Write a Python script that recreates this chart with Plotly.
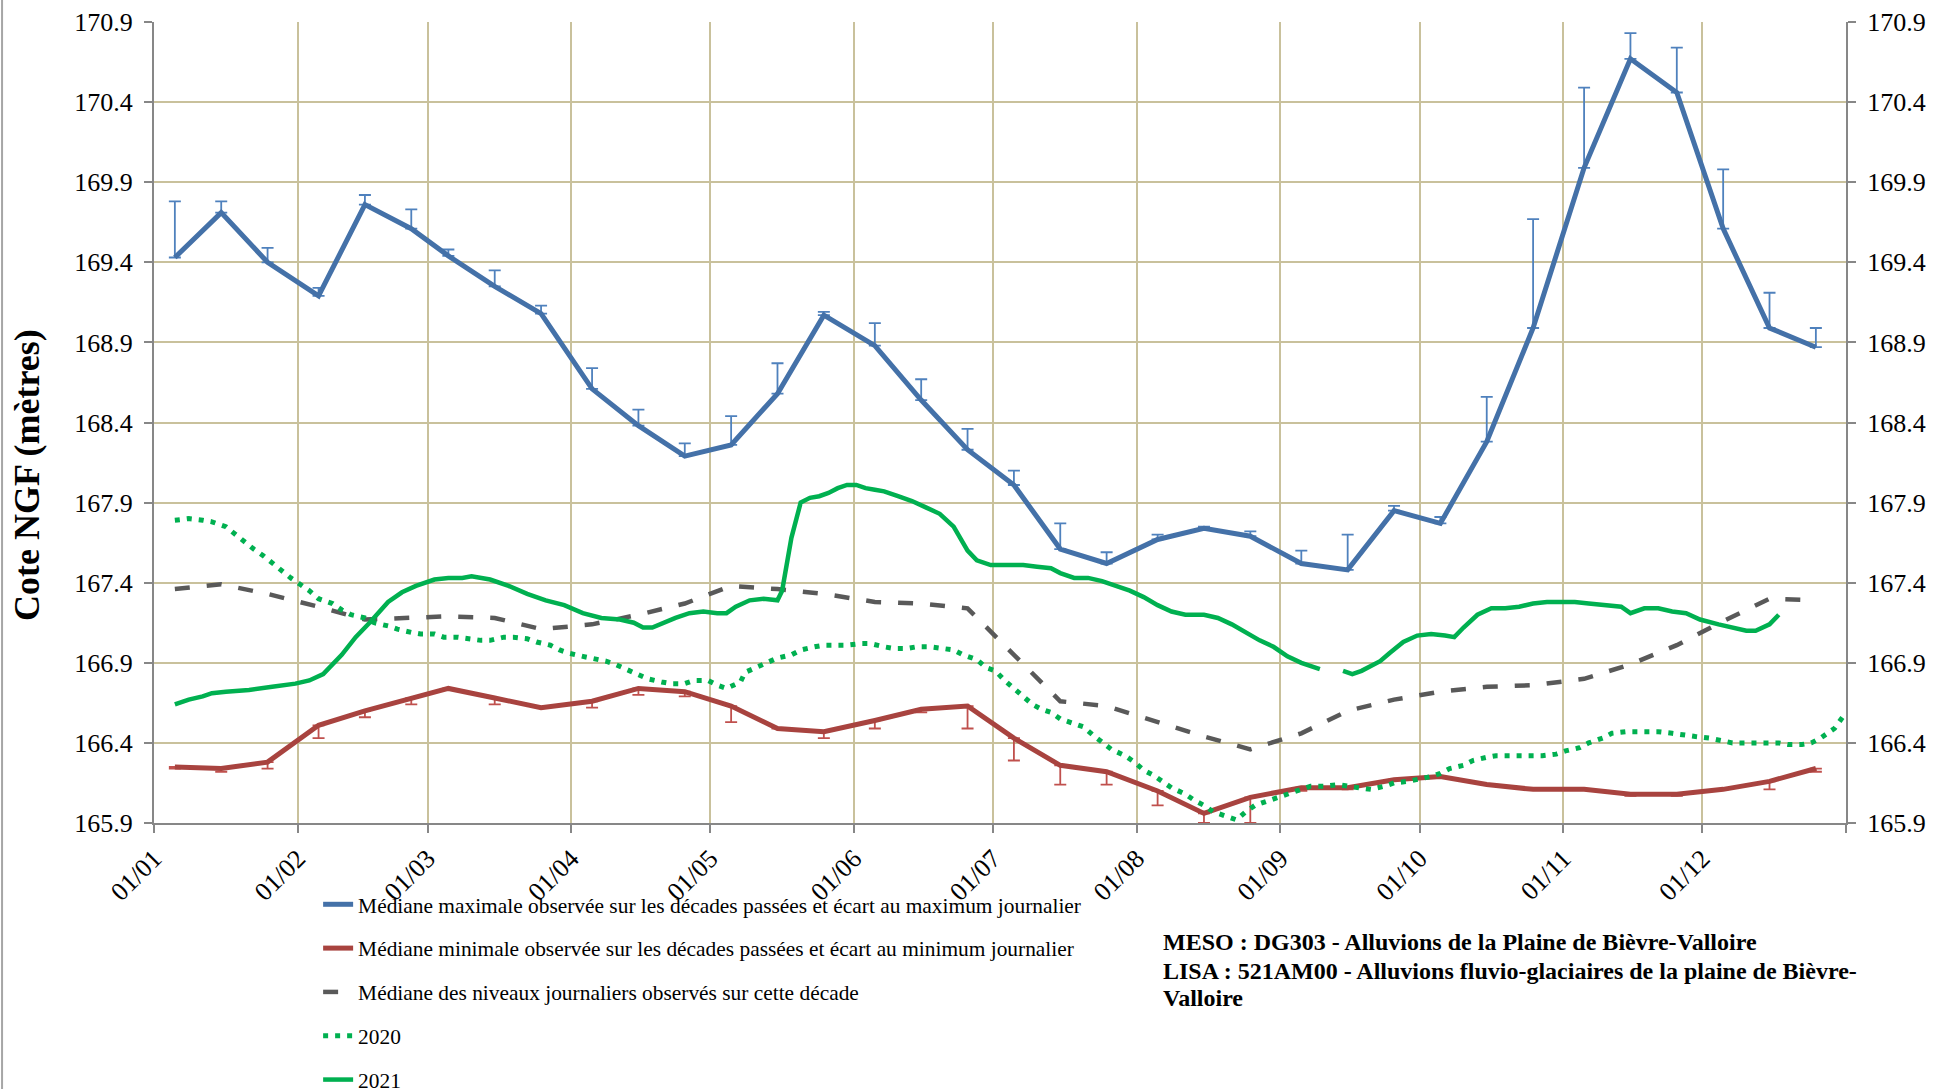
import pandas as pd
import plotly.graph_objects as go

# ---------------- data ----------------
decade_dates = [
    "2021-01-05", "2021-01-15", "2021-01-25", "2021-02-05", "2021-02-15", "2021-02-25",
    "2021-03-05", "2021-03-15", "2021-03-25", "2021-04-05", "2021-04-15", "2021-04-25",
    "2021-05-05", "2021-05-15", "2021-05-25", "2021-06-05", "2021-06-15", "2021-06-25",
    "2021-07-05", "2021-07-15", "2021-07-25", "2021-08-05", "2021-08-15", "2021-08-25",
    "2021-09-05", "2021-09-15", "2021-09-25", "2021-10-05", "2021-10-15", "2021-10-25",
    "2021-11-05", "2021-11-15", "2021-11-25", "2021-12-05", "2021-12-15", "2021-12-25",
]

med_max = [169.43, 169.71, 169.40, 169.19, 169.76, 169.61, 169.44, 169.25, 169.08,
           168.61, 168.38, 168.19, 168.26, 168.58, 169.07, 168.88, 168.54, 168.23,
           168.01, 167.61, 167.52, 167.67, 167.74, 167.69, 167.52, 167.48, 167.85,
           167.77, 168.28, 168.99, 169.99, 170.67, 170.46, 169.61, 168.99, 168.87]
ecart_max = [0.35, 0.07, 0.09, 0.05, 0.06, 0.12, 0.04, 0.10, 0.05,
             0.13, 0.10, 0.08, 0.18, 0.19, 0.02, 0.14, 0.13, 0.13,
             0.09, 0.16, 0.07, 0.03, 0.01, 0.03, 0.08, 0.22, 0.03,
             0.04, 0.28, 0.68, 0.50, 0.16, 0.28, 0.37, 0.22, 0.12]

med_min = [166.25, 166.24, 166.28, 166.51, 166.60, 166.68, 166.74, 166.68, 166.62,
           166.66, 166.74, 166.72, 166.63, 166.49, 166.47, 166.54, 166.61, 166.63,
           166.43, 166.26, 166.22, 166.10, 165.96, 166.06, 166.12, 166.12, 166.17,
           166.19, 166.14, 166.11, 166.11, 166.08, 166.08, 166.11, 166.16, 166.24]
ecart_min = [0.01, 0.02, 0.04, 0.08, 0.04, 0.04, 0.00, 0.04, 0.00,
             0.04, 0.04, 0.03, 0.10, 0.00, 0.04, 0.05, 0.02, 0.14,
             0.14, 0.12, 0.08, 0.09, 0.06, 0.16, 0.02, 0.01, 0.00,
             0.00, 0.00, 0.00, 0.00, 0.01, 0.01, 0.00, 0.05, 0.02]

med_decade = [167.36, 167.39, 167.33, 167.25, 167.17, 167.18, 167.19, 167.18, 167.11,
              167.14, 167.20, 167.27, 167.38, 167.36, 167.33, 167.28, 167.27, 167.24,
              166.95, 166.66, 166.63, 166.53, 166.44, 166.36, 166.46, 166.60, 166.67,
              166.72, 166.75, 166.76, 166.80, 166.89, 167.01, 167.16, 167.30, 167.29]

# daily levels: day index from 1 January, and level (m NGF)
days_2020 = [4, 7, 10, 12, 15, 17, 19, 21, 23, 25, 27, 29, 31, 33, 35, 38, 40, 42, 45, 47,
             50, 52, 55, 57, 60, 62, 65, 67, 70, 72, 75, 77, 80, 82, 85, 87, 89, 92, 94, 97,
             99, 102, 104, 106, 109, 111, 114, 116, 119, 121, 123, 126, 127, 130, 132, 134,
             137, 139, 142, 144, 147, 149, 152, 154, 157, 159, 162, 164, 167, 170, 172, 174,
             177, 179, 181, 183, 185, 187, 189, 191, 193, 195, 198, 200, 202, 204, 206, 209,
             211, 213, 215, 217, 219, 222, 224, 226, 228, 231, 233, 235, 237, 240, 242, 245,
             247, 249, 252, 255, 257, 260, 262, 265, 267, 270, 272, 275, 277, 279, 282, 284,
             287, 289, 292, 294, 297, 299, 302, 304, 307, 309, 312, 314, 317, 319, 322, 324,
             327, 329, 332, 335, 337, 340, 342, 345, 347, 350, 352, 355, 357, 359, 362, 364]
level_2020 = [167.79, 167.80, 167.79, 167.78, 167.75, 167.70, 167.66, 167.61, 167.57, 167.52,
              167.48, 167.43, 167.39, 167.35, 167.30, 167.27, 167.23, 167.20, 167.18, 167.15,
              167.13, 167.11, 167.09, 167.08, 167.08, 167.06, 167.06, 167.05, 167.04, 167.04,
              167.06, 167.06, 167.05, 167.03, 167.01, 166.98, 166.96, 166.94, 166.93, 166.91,
              166.89, 166.85, 166.82, 166.80, 166.78, 166.77, 166.77, 166.79, 166.79, 166.76,
              166.74, 166.78, 166.84, 166.88, 166.91, 166.93, 166.95, 166.98, 167.00, 167.01,
              167.01, 167.01, 167.02, 167.02, 167.00, 166.99, 166.99, 167.00, 167.00, 166.99,
              166.98, 166.95, 166.92, 166.87, 166.85, 166.79, 166.74, 166.69, 166.64, 166.61,
              166.59, 166.55, 166.52, 166.50, 166.45, 166.40, 166.36, 166.32, 166.28, 166.23,
              166.20, 166.16, 166.12, 166.08, 166.04, 166.01, 165.97, 165.94, 165.92, 165.97,
              166.01, 166.04, 166.06, 166.09, 166.11, 166.13, 166.13, 166.14, 166.13, 166.12,
              166.11, 166.13, 166.15, 166.16, 166.17, 166.19, 166.21, 166.24, 166.26, 166.29,
              166.31, 166.32, 166.32, 166.32, 166.32, 166.32, 166.33, 166.35, 166.37, 166.40,
              166.43, 166.46, 166.47, 166.47, 166.47, 166.47, 166.46, 166.45, 166.44, 166.43,
              166.42, 166.40, 166.40, 166.40, 166.40, 166.40, 166.39, 166.39, 166.40, 166.43,
              166.49, 166.57]

days_2021 = [4, 7, 10, 12, 15, 20, 25, 30, 33, 36, 40, 43, 46, 50, 53, 56, 60, 63, 66, 68,
             72, 76, 80, 84, 88, 92, 96, 100, 103, 105, 107, 110, 112, 115, 118, 121, 123,
             125, 128, 131, 134, 135, 137, 139, 141, 143, 145, 147, 149, 151, 153, 155, 157,
             160, 163, 166, 169, 172, 175, 177, 180, 183, 187, 190, 193, 195, 198, 201, 204,
             207, 210, 213, 216, 219, 222, 226, 229, 232, 235, 238, 241, 244, 247, 250, 251,
             253, 256, 258, 260, 262, 264, 266, 269, 272, 275, 278, 280, 282, 285, 288, 291,
             294, 297, 300, 303, 306, 309, 312, 316, 318, 321, 324, 327, 330, 333, 337, 340,
             343, 345, 348, 350]
level_2021 = [166.64, 166.67, 166.69, 166.71, 166.72, 166.73, 166.75, 166.77, 166.79, 166.83,
              166.95, 167.06, 167.15, 167.28, 167.34, 167.38, 167.42, 167.43, 167.43, 167.44,
              167.42, 167.38, 167.33, 167.29, 167.26, 167.21, 167.18, 167.17, 167.15, 167.12,
              167.12, 167.16, 167.18, 167.21, 167.22, 167.21, 167.21, 167.25, 167.29, 167.30,
              167.29, 167.35, 167.68, 167.90, 167.93, 167.94, 167.96, 167.99, 168.01, 168.01,
              167.99, 167.98, 167.97, 167.94, 167.91, 167.87, 167.83, 167.75, 167.60, 167.54,
              167.51, 167.51, 167.51, 167.50, 167.49, 167.46, 167.43, 167.43, 167.41, 167.38,
              167.35, 167.31, 167.26, 167.22, 167.20, 167.20, 167.18, 167.14, 167.09, 167.04,
              167.00, 166.94, 166.90, 166.87, 166.86, None, 166.85, 166.83, 166.85, 166.88,
              166.91, 166.96, 167.03, 167.07, 167.08, 167.07, 167.06, 167.12, 167.20, 167.24,
              167.24, 167.25, 167.27, 167.28, 167.28, 167.28, 167.27, 167.26, 167.25, 167.21,
              167.24, 167.24, 167.22, 167.21, 167.17, 167.14, 167.12, 167.10, 167.10, 167.14,
              167.20]

month_ticks = ["2021-01-01", "2021-02-01", "2021-03-01", "2021-04-01", "2021-05-01",
               "2021-06-01", "2021-07-01", "2021-08-01", "2021-09-01", "2021-10-01",
               "2021-11-01", "2021-12-01", "2022-01-01"]
month_labels = ["01/01", "01/02", "01/03", "01/04", "01/05", "01/06", "01/07", "01/08",
                "01/09", "01/10", "01/11", "01/12", ""]

y_ticks = [165.9, 166.4, 166.9, 167.4, 167.9, 168.4, 168.9, 169.4, 169.9, 170.4, 170.9]

legend_names = [
    "Médiane maximale observée sur les décades passées et écart au maximum journalier",
    "Médiane minimale observée sur les décades passées et écart au minimum journalier",
    "Médiane des niveaux journaliers observés sur cette décade",
    "2020",
    "2021",
]
info_lines = [
    "<b>MESO : DG303 - Alluvions de la Plaine de Bièvre-Valloire</b>",
    "<b>LISA : 521AM00 - Alluvions fluvio-glaciaires de la plaine de Bièvre-</b>",
    "<b>Valloire</b>",
]
y_title = "<b>Cote NGF (mètres)</b>"

# ---------------- build ----------------
half_day = pd.Timedelta(hours=12)
x_dec = pd.to_datetime(decade_dates) + half_day
base = pd.Timestamp("2021-01-01")
x_2020 = base + pd.to_timedelta(days_2020, unit="D") + half_day
x_2021 = base + pd.to_timedelta(days_2021, unit="D") + half_day

FONT = "Liberation Serif"
BLUE, BLUE_ERR = "#4471A8", "#4F81BD"
RED, RED_ERR = "#A8433F", "#C0504D"
GREEN = "#00B050"
GREY = "#595959"
GRID = "#C9C19C"
AXIS = "#878787"

fig = go.Figure()
fig.add_trace(go.Scatter(
    x=x_dec, y=med_max, mode="lines", name=legend_names[0], legendgroup="g1",
    line=dict(color=BLUE, width=5),
    error_y=dict(type="data", symmetric=False, array=ecart_max,
                 arrayminus=[0] * len(ecart_max), color=BLUE_ERR, thickness=1.8, width=6)))
fig.add_trace(go.Scatter(
    x=x_dec, y=med_min, mode="lines", name=legend_names[1], legendgroup="g2",
    line=dict(color=RED, width=5),
    error_y=dict(type="data", symmetric=False, array=[0] * len(ecart_min),
                 arrayminus=ecart_min, color=RED_ERR, thickness=1.8, width=6)))
fig.add_trace(go.Scatter(
    x=x_dec, y=med_decade, mode="lines", name=legend_names[2], legendgroup="g3",
    line=dict(color=GREY, width=4.5, dash="15px,17px")))
fig.add_trace(go.Scatter(
    x=x_2020, y=level_2020, mode="lines", name=legend_names[3], legendgroup="g4",
    line=dict(color=GREEN, width=5, dash="5px,7px")))
fig.add_trace(go.Scatter(
    x=x_2021, y=level_2021, mode="lines", name=legend_names[4], legendgroup="g5",
    line=dict(color=GREEN, width=4.5), connectgaps=False))
# invisible trace so the right-hand axis is drawn
fig.add_trace(go.Scatter(x=[x_dec[0]], y=[None], yaxis="y2", showlegend=False,
                         hoverinfo="skip", mode="lines"))

axis_common = dict(showline=True, linecolor=AXIS, linewidth=2, ticks="outside",
                   ticklen=8, tickwidth=2, tickcolor=AXIS,
                   tickfont=dict(family=FONT, size=26, color="black"), zeroline=False)

annotations = [
    dict(text=y_title, xref="paper", yref="paper", x=-0.075, y=0.4345,
         xanchor="center", yanchor="middle", textangle=-90, showarrow=False,
         font=dict(family=FONT, size=36, color="black")),
]
for line_text, ypos in zip(info_lines, [-0.1486, -0.1848, -0.2185]):
    annotations.append(dict(text=line_text, xref="paper", yref="paper", x=0.595, y=ypos,
                            xanchor="left", yanchor="middle", align="left",
                            showarrow=False,
                            font=dict(family=FONT, size=24, color="black")))

fig.update_layout(
    width=1934, height=1089,
    margin=dict(l=154, r=88, t=22, b=266, autoexpand=False),
    paper_bgcolor="white", plot_bgcolor="white",
    font=dict(family=FONT, color="black"),
    xaxis=dict(type="date", range=["2021-01-01", "2022-01-01"],
               tickmode="array", tickvals=month_ticks, ticktext=month_labels,
               tickangle=-45, showgrid=True, gridcolor=GRID, gridwidth=2,
               **axis_common),
    yaxis=dict(range=[165.9, 170.9], tickmode="array", tickvals=y_ticks,
               tickformat=".1f", showgrid=True, gridcolor=GRID, gridwidth=2,
               ticklabelstandoff=6, **axis_common),
    yaxis2=dict(range=[165.9, 170.9], tickmode="array", tickvals=y_ticks,
                tickformat=".1f", overlaying="y", side="right", showgrid=False,
                ticklabelstandoff=6, **axis_common),
    showlegend=True,
    legend=dict(x=0.097, y=-0.076, xanchor="left", yanchor="top",
                orientation="v", traceorder="grouped", tracegroupgap=13,
                font=dict(family=FONT, size=21.4, color="black"),
                bgcolor="rgba(0,0,0,0)"),
    annotations=annotations,
    shapes=[dict(type="line", xref="paper", yref="paper", x0=-0.0898, x1=-0.0898,
                 y0=-0.34, y1=1.03, line=dict(color="#A6A6A6", width=2))],
)

fig.write_html("out.html", config={"displayModeBar": False},
               post_script="document.body.style.margin='0px';")
